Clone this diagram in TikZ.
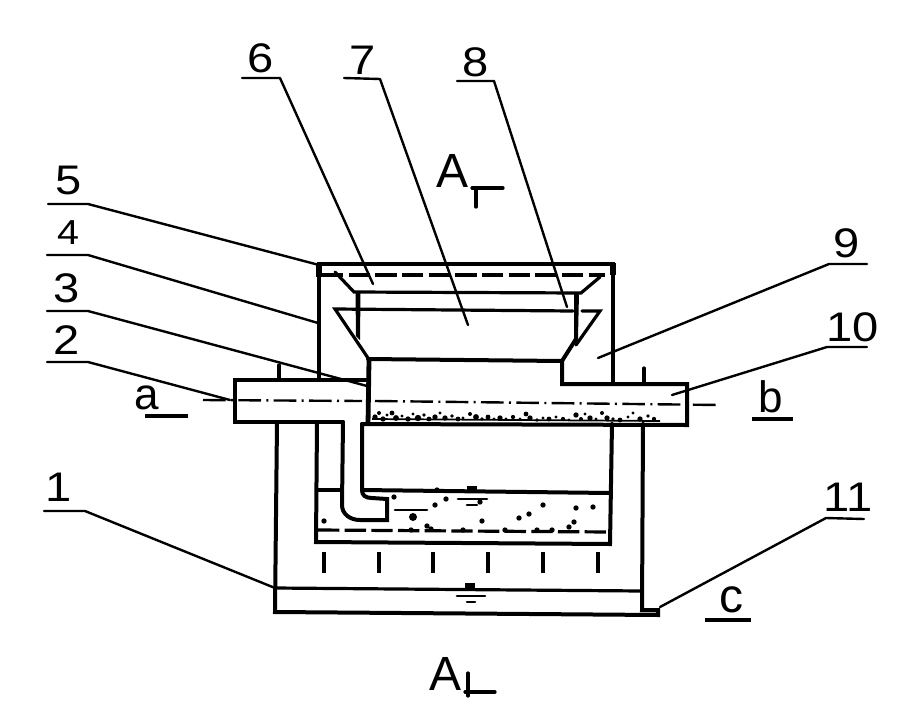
\documentclass[tikz,border=0pt]{standalone}
\usepackage{graphicx}
\usepackage{fontspec}
\setmainfont{Liberation Sans}
\newcommand{\wider}[1]{\scalebox{1.14}[1]{#1}}
\tikzset{
  wall/.style={line width=2.4pt,line join=miter,line cap=round},
  thickwall/.style={line width=3.6pt,line cap=butt},
  leader/.style={line width=1.8pt,line join=round,line cap=round},
  thinline/.style={line width=2pt,line cap=round},
  levelline/.style={line width=2.4pt,dash pattern=on 16pt off 4pt},
  centerline/.style={line width=1.8pt,dash pattern=on 17pt off 4pt on 1.5pt off 4pt},
  lab/.style={inner sep=0pt,font=\fontsize{31}{31}\selectfont},
  smalllab/.style={inner sep=0pt,font=\fontsize{26}{26}\selectfont},
  biglab/.style={inner sep=0pt,font=\fontsize{36}{36}\selectfont},
  grain/.style={fill=black,draw=none}
}
\begin{document}
\begin{tikzpicture}[x=0.75pt,y=-0.75pt]
\useasboundingbox (0,0) rectangle (908,726);
\fill[white] (0,0) rectangle (908,726);

% upper chamber
\draw[wall,line width=3pt] (319,380) -- (319,264) -- (613,264) -- (613,384);
\draw[thickwall,line width=4pt] (319,263) -- (319,277);
\draw[thickwall,line width=4pt] (613,263) -- (613,275);
\draw[levelline] (322,275) -- (605,275);
\draw[wall] (335,272) -- (354,292) -- (581,293) -- (600,277);
\draw[wall] (573,311) -- (335,309) -- (368,358);
\draw[wall] (582,311) -- (600,311) -- (576,345);
\draw[wall,line width=3pt] (368,359) -- (562,361) -- (576,339);
\fill (355.5,293) -- (360.5,293) -- (360,340) -- (356,336) -- cycle;
\fill (574,293) -- (579,293) -- (578,338) -- (574,343) -- cycle;

% through pipe
\draw[wall] (279,365) -- (279,380);
\draw[wall] (644,368) -- (644,384);
\draw[wall,line width=3pt] (368,380) -- (235,380) -- (235,422) -- (343,422);
\draw[wall,line width=3pt] (562,361) -- (562,384) -- (687,384) -- (687,425) -- (362,424);
\draw[thickwall,line width=3.6pt] (369,360) -- (368,425);
\draw[centerline] (203,400) -- (362,401);
\draw[centerline] (375,401) -- (720,405);

% grains in the pipe
\foreach \x/\y/\r in {375/417/2,379/413/1.5,383/419/2,387/415/1.2,392/413/1.8,396/418/2.2,402/416/1.3,408/419/2,413/414/1.2,418/418/2.4,424/415/1.4,429/419/1.8,435/417/2,440/413/1.2,445/418/2,452/416/1.4,458/419/1.8,463/418/1.2,470/414/1.5,476/417/2.2,482/419/1.4,488/417/1.8,494/419/1.3,500/418/2,506/419/1.2,513/417/1.6,520/419/1.3,526/414/1.8,530/418/2,537/420/1.4,543/418/1.2,549/419/1.8,556/417/1.3,563/419/1.6,569/420/1.3,576/415/2,581/419/1.5,585/414/1.3,590/418/2,596/419/1.3,602/413/1.5,607/418/2,613/419/1.4,620/420/1.8,628/417/1.3,633/413/1.2,640/419/2,648/416/1.4,654/419/1.6}
  \fill[grain] (\x,\y) circle (\r pt);
\draw[line width=1.3pt] (372,419) -- (660,421);

% lower vessel
\draw[wall,line width=3pt] (277,422) -- (275,612) -- (658,615) -- (658,610) -- (642,610) -- (643,424);
\draw[wall] (275,588) -- (642,591);
\draw[wall,line width=3pt] (317,422) -- (316,542) -- (610,544) -- (612,424);
\draw[levelline] (318,530) -- (610,532);
\draw[wall] (317,490) -- (342,490);
% outlet pipe
\draw[wall,line width=3pt] (343,422) -- (342,505) .. controls (342,514) and (350,520) .. (360,520) -- (387,520) -- (387,499) -- (372,498) .. controls (365,498) and (362,495) .. (362,490) -- (362,424);
\draw[wall,line width=3pt] (362,490) -- (610,493);
% grains in the tank
\foreach \x/\y in {324/521,394/497,435/505,437/490,446/499,480/502,482/521,519/518,529/514,543/505,576/508,574/522,569/527,593/507,427/526,411/530,431/529,463/530,505/530,537/530,552/530}
  \fill[grain] (\x,\y) circle (2pt);
\fill[grain] (413,517) circle (3pt);
\draw[thinline] (395,510) -- (427,510);
% level marks
\fill (467,486) rectangle (477,491);
\draw[thinline] (458,499) -- (487,499);
\draw[thinline] (467,505) -- (477,505);
\fill (465,583) rectangle (475,589);
\draw[thinline] (457,596) -- (485,596);
\draw[thinline] (467,602) -- (475,602);
% rising ticks
\foreach \x in {324,379,433,488,543,598}
  \draw[line width=2.6pt] (\x,552) -- (\x,573);

% numbered leaders
\foreach \t/\lx/\ly/\sx/\sy/\kx/\ky/\ex/\ey in {
  5/69/180/48/204/88/204/319/265,
  3/67/288/47/311/88/311/367/386,
  2/67/340/47/362/88/362/230/400,
  1/59/487/44/511/85/511/275/588,
  6/261/58/242/78/280/78/373/284,
  7/363/60/344/78/380/79/468/325,
  8/476/62/457/81/494/81/567/307,
  9/847/243/867/264/829/264/598/358,
  10/853/327/867/347/827/347/672/395,
  11/848/497/864/519/826/518/660/607}{
  \node[lab] (lab\t) at (\lx,\ly) {\wider{\t}};
  \coordinate (s\t) at (\sx,\sy);
  \coordinate (k\t) at (\kx,\ky);
  \coordinate (e\t) at (\ex,\ey);
  \draw[leader] (s\t) -- (k\t) -- (e\t);
}
\node[smalllab] (lab4) at (68,233) {\wider{4}};
\coordinate (s4) at (47,255);
\coordinate (k4) at (88,255);
\coordinate (e4) at (318,323);
\draw[leader] (s4) -- (k4) -- (e4);

% flow labels
\node[lab,font=\fontsize{33}{33}\selectfont] (fa) at (147,398) {a};
\draw[line width=2.4pt] (145,416) -- (188,416);
\node[lab,font=\fontsize{33}{33}\selectfont] (fb) at (771,397) {b};
\draw[line width=2.4pt] (752,419) -- (793,419);
\node[lab,font=\fontsize{36}{36}\selectfont] (fc) at (731,600) {c};
\draw[line width=2.4pt] (705,620) -- (751,620);

% section marks
\node[biglab] (secT) at (453,171) {A};
\draw[wall] (472,188) -- (503,188);
\draw[wall] (476,188) -- (476,207);
\node[biglab] (secB) at (446,674) {A};
\draw[wall] (468,673) -- (468,696);
\draw[wall] (465,692) -- (495,692);
\end{tikzpicture}
\end{document}
